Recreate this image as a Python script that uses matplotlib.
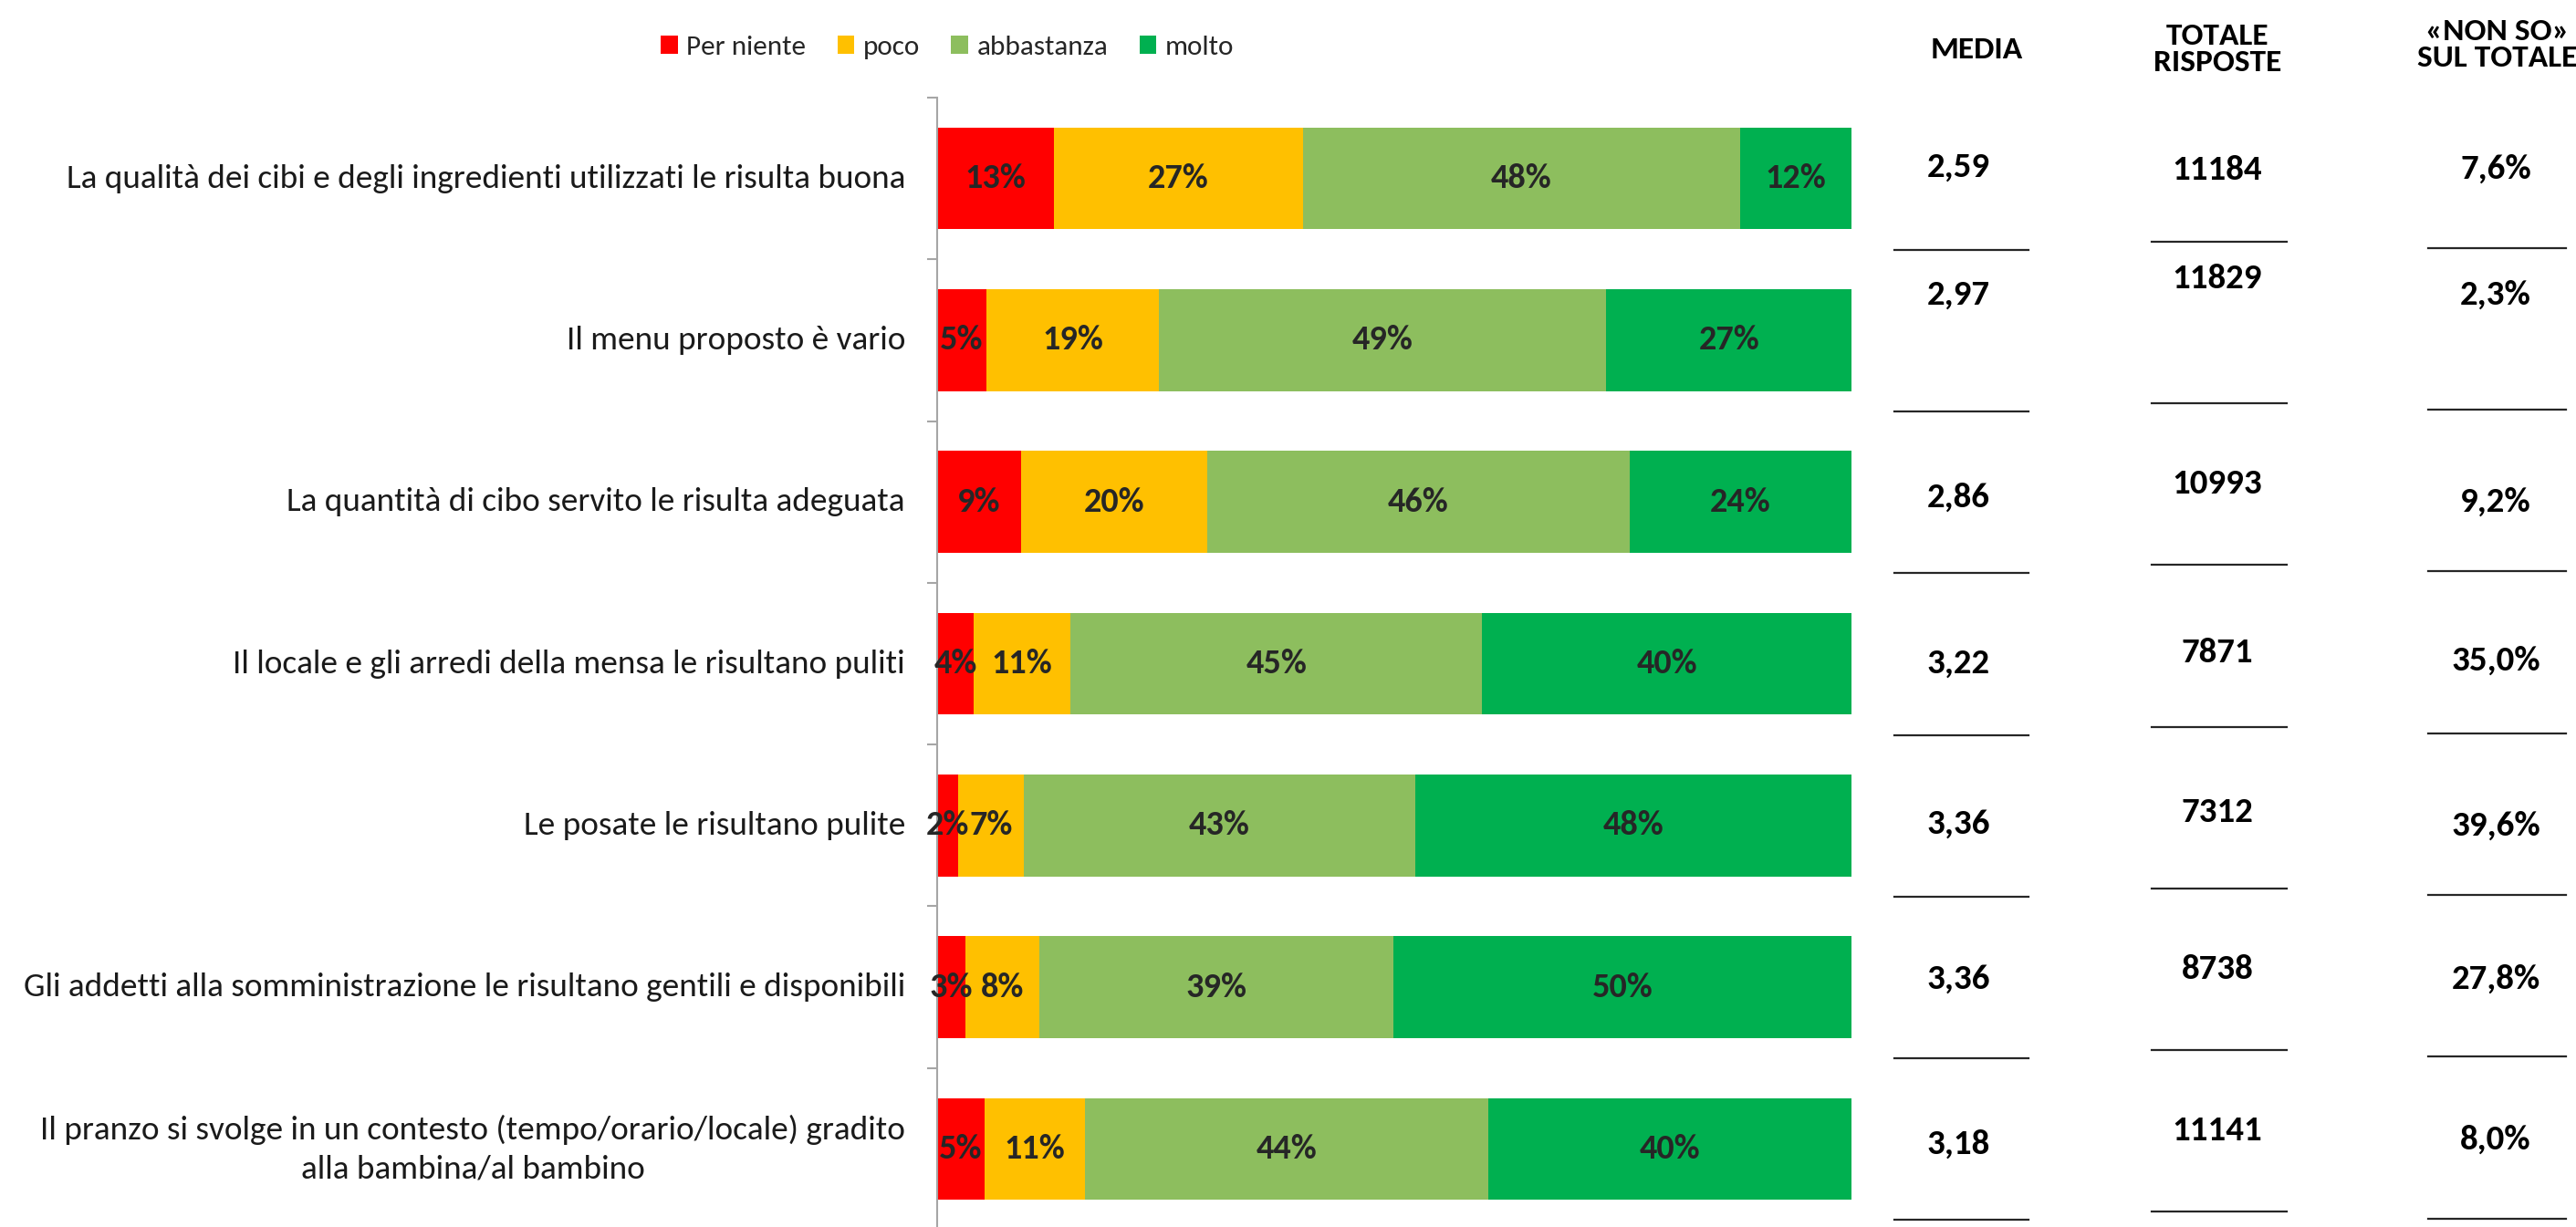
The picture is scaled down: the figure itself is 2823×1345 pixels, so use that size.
import numpy as np
import matplotlib
matplotlib.use("Agg")
import matplotlib.pyplot as plt
from matplotlib.patches import Patch
from matplotlib.lines import Line2D
from matplotlib.transforms import blended_transform_factory

plt.rcParams['font.family'] = ['Carlito', 'Lato', 'DejaVu Sans']

# ---------------- data ----------------
categories = [
    "La qualità dei cibi e degli ingredienti utilizzati le risulta buona",
    "Il menu proposto è vario",
    "La quantità di cibo servito le risulta adeguata",
    "Il locale e gli arredi della mensa le risultano puliti",
    "Le posate le risultano pulite",
    "Gli addetti alla somministrazione le risultano gentili e disponibili",
    "Il pranzo si svolge in un contesto (tempo/orario/locale) gradito\nalla bambina/al bambino",
]
series_names = ["Per niente", "poco", "abbastanza", "molto"]
per_niente = [12.8, 5.4, 9.2, 4.0, 2.3, 3.1, 5.2]
poco = [27.2, 18.9, 20.3, 10.6, 7.2, 8.1, 11.0]
abbastanza = [47.8, 48.9, 46.2, 45.0, 42.8, 38.7, 44.1]
molto = [12.2, 26.8, 24.3, 40.5, 47.7, 50.2, 39.7]
bar_labels = [
    ["13%", "5%", "9%", "4%", "2%", "3%", "5%"],
    ["27%", "19%", "20%", "11%", "7%", "8%", "11%"],
    ["48%", "49%", "46%", "45%", "43%", "39%", "44%"],
    ["12%", "27%", "24%", "40%", "48%", "50%", "40%"],
]
media = ["2,59", "2,97", "2,86", "3,22", "3,36", "3,36", "3,18"]
totale_risposte = ["11184", "11829", "10993", "7871", "7312", "8738", "11141"]
non_so = ["7,6%", "2,3%", "9,2%", "35,0%", "39,6%", "27,8%", "8,0%"]
col_headers = ["MEDIA", "TOTALE\nRISPOSTE", "«NON SO»\nSUL TOTALE"]

colors = ["#FF0000", "#FFC000", "#8DBE5E", "#00B050"]

# ---------------- layout ----------------
W, H = 2823, 1345
fig = plt.figure(figsize=(W / 100, H / 100), dpi=100)
ax_left, ax_right = 1027, 2029
ax_top, ax_bot = 107, 1348
ax = fig.add_axes([ax_left / W, 1 - ax_bot / H, (ax_right - ax_left) / W, (ax_bot - ax_top) / H])

y = np.arange(len(categories))
series = [per_niente, poco, abbastanza, molto]
left = np.zeros(len(categories))
for vals, col, name, labs in zip(series, colors, series_names, bar_labels):
    vals = np.array(vals)
    ax.barh(y, vals, left=left, height=0.63, color=col, label=name, edgecolor='none')
    for yi, l, v, t in zip(y, left, vals, labs):
        ax.text(l + v / 2, yi, t, ha='center', va='center', fontsize=27.5,
                fontweight='bold', color='#262626')
    left += vals

ax.set_xlim(0, 100)
ax.set_ylim(len(categories) - 0.5, -0.5)
ax.set_xticks([])
ax.set_yticks(np.arange(-0.5, len(categories), 1))
ax.set_yticklabels([])
ax.tick_params(axis='y', length=8, width=1.5, color='#A6A6A6', direction='out')
for s in ['top', 'right', 'bottom']:
    ax.spines[s].set_visible(False)
ax.spines['left'].set_color('#A6A6A6')
ax.spines['left'].set_linewidth(1.5)

for yi, cat in zip(y, categories):
    ax.text(-3.5, yi, cat, ha='right', va='center', multialignment='center',
            fontsize=26.8, color='#1a1a1a', linespacing=1.4)

# legend
handles = [Patch(facecolor=c, edgecolor='none', label=n) for c, n in zip(colors, series_names)]
fig.legend(handles=handles, loc='center', bbox_to_anchor=(1038 / W, 1 - 52 / H), ncol=4,
           frameon=False, fontsize=22.5, handlelength=0.6, handleheight=0.6,
           handletextpad=0.3, columnspacing=1.1, labelcolor='#262626')

# right-hand columns
tr = blended_transform_factory(fig.transFigure, ax.transData)
col_x = [2146, 2430, 2735]
hdr_x = [2166, 2430, 2737]
hdr_y = [54, 54, 49]
line_span = [(2076, 2223), (2358, 2506), (2661, 2812)]
text_nudge = [
    [-0.07, -0.28, -0.03, 0.0, -0.01, -0.05, -0.03],
    [-0.05, -0.38, -0.11, -0.07, -0.08, -0.11, -0.11],
    [-0.06, -0.28, 0.0, -0.02, 0.0, -0.05, -0.06],
]
line_off = [0.44, 0.39, 0.43]
columns = [media, totale_risposte, non_so]
for ci, (vals, hdr) in enumerate(zip(columns, col_headers)):
    fig.text(hdr_x[ci] / W, 1 - hdr_y[ci] / H, hdr, ha='center', va='center',
             fontsize=25.5, fontweight='bold', color='black', linespacing=1.0)
    for ri, v in enumerate(vals):
        fig.text(col_x[ci] / W, y[ri] + text_nudge[ci][ri], v, transform=tr,
                 ha='center', va='center', fontsize=28, fontweight='bold', color='black')
        x0, x1 = line_span[ci]
        fig.add_artist(Line2D([x0 / W, x1 / W], [y[ri] + line_off[ci]] * 2, transform=tr,
                              color='#262626', linewidth=1.6))

fig.savefig("out.png", dpi=100)
